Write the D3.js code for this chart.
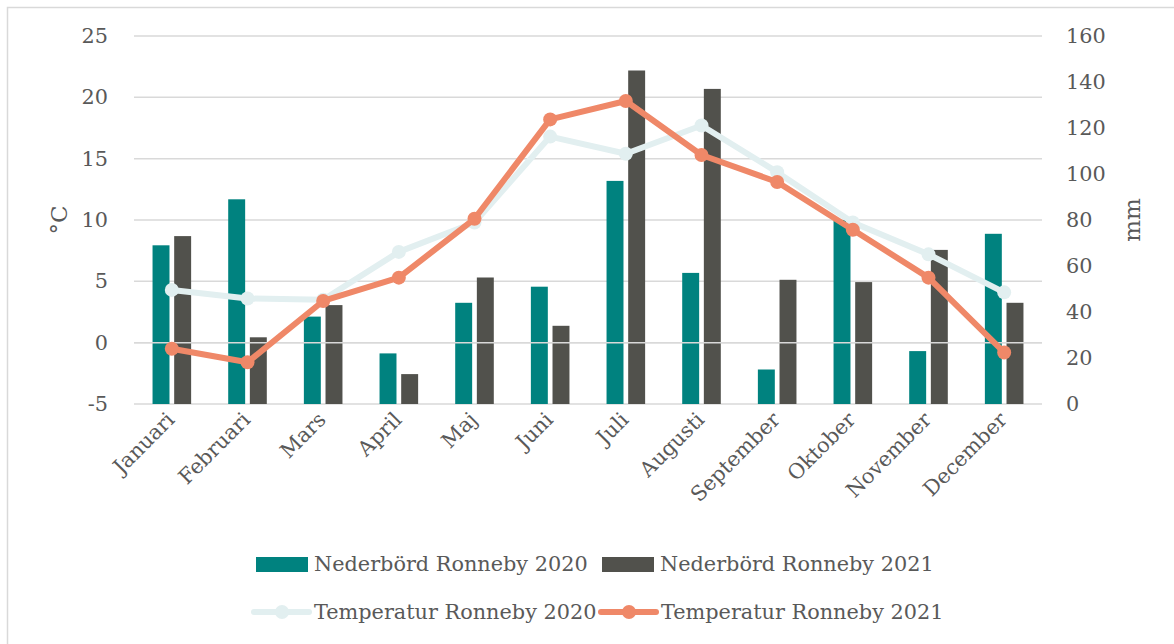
<!DOCTYPE html>
<html>
<head>
<meta charset="utf-8">
<script src="https://cdn.jsdelivr.net/npm/d3@7"></script>
<style>
  body { margin: 0; background: #fff; }
  svg text { font-family: "DejaVu Serif", serif; fill: #595959; }
</style>
</head>
<body>
<div id="chart"></div>
<script>
// data
var months = ["Januari", "Februari", "Mars", "April", "Maj", "Juni", "Juli",
              "Augusti", "September", "Oktober", "November", "December"];
var rain2020 = [69, 89, 38, 22, 44, 51, 97, 57, 15, 80, 23, 74];
var rain2021 = [73, 29, 43, 13, 55, 34, 145, 137, 54, 53, 67, 44];
var temp2020 = [4.3, 3.6, 3.5, 7.4, 9.8, 16.8, 15.4, 17.7, 13.9, 9.8, 7.2, 4.1];
var temp2021 = [-0.5, -1.6, 3.4, 5.3, 10.1, 18.2, 19.7, 15.3, 13.1, 9.2, 5.3, -0.8];
var tempTicks = [-5, 0, 5, 10, 15, 20, 25];
var rainTicks = [0, 20, 40, 60, 80, 100, 120, 140, 160];

var barSeries = [
  {name: "Nederbörd Ronneby 2020", values: rain2020, color: "#00827F"},
  {name: "Nederbörd Ronneby 2021", values: rain2021, color: "#51514C"}
];
var lineSeries = [
  {name: "Temperatur Ronneby 2020", values: temp2020, color: "#E2EFF0"},
  {name: "Temperatur Ronneby 2021", values: temp2021, color: "#EF8868"}
];

var width = 1174, height = 644;
var plot = {left: 134, right: 1042, top: 36, bottom: 404};
var fontSize = "20.8px";

var svg = d3.select("#chart").append("svg")
            .attr("width", width)
            .attr("height", height);

// outer frame
svg.append("rect")
   .attr("x", 7.5).attr("y", 7.5)
   .attr("width", width).attr("height", height + 20)
   .attr("fill", "#fff")
   .attr("stroke", "#D9D9D9")
   .attr("stroke-width", 1.5);

var xScale = d3.scaleBand()
               .domain(months)
               .range([plot.left, plot.right])
               .paddingInner(0.49)
               .paddingOuter(0.245);

var xInner = d3.scaleBand()
               .domain([0, 1])
               .range([0, xScale.bandwidth()])
               .paddingInner(0.217);

var yTemp = d3.scaleLinear().domain([-5, 25]).range([plot.bottom, plot.top]);
var yRain = d3.scaleLinear().domain([0, 160]).range([plot.bottom, plot.top]);

function cx(d, i) { return xScale(months[i]) + xScale.bandwidth() / 2; }

// gridlines
svg.append("g")
   .attr("class", "grid")
   .selectAll("line")
   .data(tempTicks)
   .enter().append("line")
   .attr("x1", plot.left).attr("x2", plot.right)
   .attr("y1", function(d) { return yTemp(d); })
   .attr("y2", function(d) { return yTemp(d); })
   .attr("stroke", "#D9D9D9")
   .attr("stroke-width", 1.5);

// left axis (plain hyphen for negatives, like the original)
var yAxisL = d3.axisLeft(yTemp).tickValues(tempTicks)
               .tickFormat(function(d) { return String(d); })
               .tickSize(0).tickPadding(0);
var gL = svg.append("g")
   .attr("transform", "translate(108,0)")
   .call(yAxisL);
gL.select(".domain").remove();
gL.selectAll("text").style("font-size", fontSize);

// right axis
var yAxisR = d3.axisRight(yRain).tickValues(rainTicks).tickSize(0).tickPadding(0);
var gR = svg.append("g")
   .attr("transform", "translate(1066,0)")
   .call(yAxisR);
gR.select(".domain").remove();
gR.selectAll("text").style("font-size", fontSize);

// axis titles
svg.append("text")
   .attr("transform", "translate(67,220) rotate(-90)")
   .attr("text-anchor", "middle")
   .style("font-size", "23px")
   .text("°C");
svg.append("text")
   .attr("transform", "translate(1140,220) rotate(-90)")
   .attr("text-anchor", "middle")
   .style("font-size", "23px")
   .text("mm");

// bars (secondary axis)
barSeries.forEach(function(s, si) {
  svg.append("g")
     .attr("class", "bars")
     .selectAll("rect")
     .data(s.values)
     .enter().append("rect")
     .attr("x", function(d, i) { return xScale(months[i]) + xInner(si); })
     .attr("width", xInner.bandwidth())
     .attr("y", function(d) { return yRain(d); })
     .attr("height", function(d) { return yRain(0) - yRain(d); })
     .attr("fill", s.color);
});

// category axis line at 0 degrees
svg.append("line")
   .attr("x1", plot.left).attr("x2", plot.right)
   .attr("y1", yTemp(0)).attr("y2", yTemp(0))
   .attr("stroke", "#D9D9D9")
   .attr("stroke-width", 1.5);

// month labels
var xAxis = d3.axisBottom(xScale).tickSize(0).tickPadding(0);
var gX = svg.append("g")
   .attr("transform", "translate(0," + plot.bottom + ")")
   .call(xAxis);
gX.select(".domain").remove();
gX.selectAll("text")
  .style("font-size", fontSize)
  .attr("text-anchor", "end")
  .attr("y", 0)
  .attr("dy", 0)
  .attr("transform", "translate(4,17) rotate(-45)");

// temperature lines
var line = d3.line()
             .x(cx)
             .y(function(d) { return yTemp(d); });

lineSeries.forEach(function(s) {
  var g = svg.append("g").attr("class", "line-group");
  g.append("path")
   .datum(s.values)
   .attr("d", line)
   .attr("fill", "none")
   .attr("stroke", s.color)
   .attr("stroke-width", 6)
   .attr("stroke-linejoin", "round");
  g.selectAll("circle")
   .data(s.values)
   .enter().append("circle")
   .attr("cx", cx)
   .attr("cy", function(d) { return yTemp(d); })
   .attr("r", 7)
   .attr("fill", s.color);
});

// legend
var legend = svg.append("g").attr("class", "legend");
var barLegendX = [256, 602];
barSeries.forEach(function(s, i) {
  legend.append("rect")
        .attr("x", barLegendX[i]).attr("y", 557)
        .attr("width", 52).attr("height", 15)
        .attr("fill", s.color);
  legend.append("text")
        .attr("x", barLegendX[i] + 58).attr("y", 571)
        .style("font-size", fontSize)
        .text(s.name);
});
var lineLegendX = [254, 601];
lineSeries.forEach(function(s, i) {
  legend.append("line")
        .attr("x1", lineLegendX[i]).attr("x2", lineLegendX[i] + 55)
        .attr("y1", 612).attr("y2", 612)
        .attr("stroke", s.color)
        .attr("stroke-width", 6)
        .attr("stroke-linecap", "round");
  legend.append("circle")
        .attr("cx", lineLegendX[i] + 28).attr("cy", 612)
        .attr("r", 7)
        .attr("fill", s.color);
  legend.append("text")
        .attr("x", lineLegendX[i] + 60).attr("y", 619)
        .style("font-size", fontSize)
        .text(s.name);
});
</script>
</body>
</html>
